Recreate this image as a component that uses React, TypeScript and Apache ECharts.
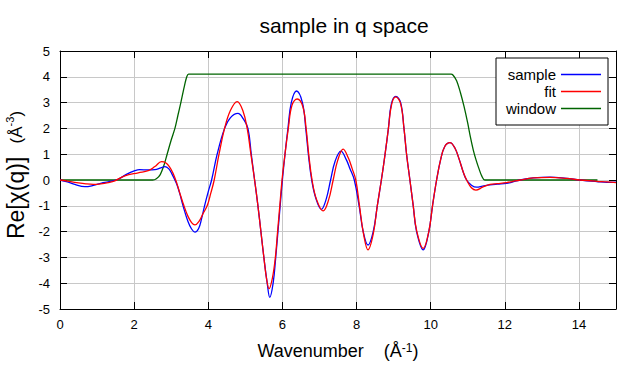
import React, { useEffect, useRef } from "react";
import * as echarts from "echarts";

const FONT = "'Liberation Sans', Arial, sans-serif";

const xTicksInterval = 2;
const yTicksInterval = 1;

const sampleX = [0, 0.2, 0.4, 0.67, 0.9, 1.12, 1.3, 1.57, 1.79, 2.02, 2.15, 2.38, 2.56, 2.72, 2.83, 2.93, 3.01, 3.14, 3.23, 3.32, 3.45, 3.55, 3.64, 3.74, 3.82, 3.9, 4.0, 4.09, 4.24, 4.44, 4.6, 4.8, 4.94, 5.07, 5.16, 5.25, 5.34, 5.42, 5.5, 5.59, 5.66, 5.75, 5.82, 5.88, 5.94, 6.0, 6.07, 6.15, 6.24, 6.38, 6.54, 6.63, 6.7, 6.79, 6.9, 7.05, 7.18, 7.3, 7.42, 7.58, 7.72, 7.82, 7.94, 8.07, 8.18, 8.31, 8.45, 8.56, 8.67, 8.77, 8.86, 8.94, 9.06, 9.19, 9.28, 9.35, 9.44, 9.53, 9.62, 9.8, 9.95, 10.05, 10.16, 10.27, 10.38, 10.52, 10.65, 10.77, 10.88, 10.97, 11.1, 11.24, 11.4, 11.6, 11.8, 12.05, 12.2, 12.41, 12.77, 13.22, 13.67, 14.03, 14.48, 14.75, 15.0];
const sampleY = [0, -0.07, -0.17, -0.26, -0.21, -0.12, -0.07, 0.03, 0.22, 0.36, 0.4, 0.39, 0.4, 0.47, 0.52, 0.44, 0.26, -0.13, -0.52, -1.0, -1.6, -1.9, -2.02, -1.88, -1.5, -1.0, -0.45, 0.0, 1.0, 2.0, 2.42, 2.58, 2.38, 2.0, 1.0, 0.0, -1.0, -2.0, -3.0, -4.0, -4.55, -4.0, -3.0, -2.0, -1.0, 0.0, 1.0, 2.0, 3.0, 3.45, 3.0, 2.0, 1.0, 0.0, -0.7, -1.14, -0.75, 0.0, 0.72, 1.12, 0.8, 0.45, 0.0, -1.0, -2.0, -2.52, -2.0, -1.0, 0.0, 1.0, 2.0, 2.95, 3.24, 3.0, 2.0, 1.0, 0.0, -1.0, -2.0, -2.71, -2.0, -1.0, 0.0, 0.8, 1.3, 1.45, 1.25, 0.8, 0.3, 0.0, -0.2, -0.28, -0.24, -0.19, -0.16, -0.13, -0.08, 0.0, 0.08, 0.11, 0.06, 0.0, -0.06, -0.09, -0.08];

const fitX = [0, 0.2, 0.45, 0.7, 0.9, 1.1, 1.3, 1.48, 1.75, 2.11, 2.38, 2.56, 2.74, 2.85, 2.95, 3.05, 3.15, 3.23, 3.32, 3.45, 3.55, 3.64, 3.75, 3.86, 3.97, 4.07, 4.16, 4.29, 4.44, 4.6, 4.78, 4.93, 5.05, 5.15, 5.25, 5.34, 5.42, 5.5, 5.57, 5.64, 5.73, 5.81, 5.87, 5.93, 5.99, 6.07, 6.16, 6.26, 6.4, 6.55, 6.64, 6.71, 6.8, 6.92, 7.1, 7.24, 7.37, 7.49, 7.64, 7.78, 7.88, 7.98, 8.08, 8.19, 8.31, 8.45, 8.56, 8.67, 8.77, 8.86, 8.95, 9.06, 9.19, 9.28, 9.35, 9.44, 9.53, 9.62, 9.8, 9.95, 10.05, 10.16, 10.27, 10.38, 10.52, 10.65, 10.77, 10.88, 10.97, 11.1, 11.22, 11.4, 11.6, 11.8, 12.05, 12.2, 12.41, 12.77, 13.22, 13.67, 14.03, 14.48, 14.75, 15.0];
const fitY = [0, -0.04, -0.1, -0.15, -0.17, -0.15, -0.1, -0.03, 0.16, 0.28, 0.36, 0.52, 0.71, 0.67, 0.52, 0.26, -0.12, -0.5, -0.9, -1.4, -1.65, -1.74, -1.6, -1.3, -1.0, -0.5, 0.0, 1.0, 2.0, 2.7, 3.04, 2.7, 2.0, 1.0, 0.0, -1.0, -2.0, -3.0, -3.8, -4.21, -3.8, -3.0, -2.0, -1.0, 0.0, 1.0, 2.0, 2.9, 3.14, 2.85, 2.0, 1.0, 0.0, -0.75, -1.2, -0.8, 0.0, 0.75, 1.2, 0.85, 0.45, 0.0, -1.0, -2.1, -2.71, -2.1, -1.0, 0.0, 1.0, 2.0, 2.95, 3.22, 2.95, 2.0, 1.0, 0.0, -1.0, -1.95, -2.65, -2.0, -1.0, 0.0, 0.8, 1.3, 1.45, 1.25, 0.8, 0.3, 0.0, -0.3, -0.39, -0.28, -0.17, -0.14, -0.1, -0.06, 0.0, 0.08, 0.1, 0.06, 0.0, -0.05, -0.07, -0.1];

const windowX = [0, 2.5, 2.6, 2.7, 2.8, 2.89, 3.0, 3.1, 3.18, 3.26, 3.35, 3.42, 3.47, 10.55, 10.6, 10.7, 10.8, 10.9, 11.0, 11.07, 11.15, 11.22, 11.3, 11.38, 11.46, 14.5];
const windowY = [0, 0, 0.05, 0.2, 0.55, 1.0, 1.55, 2.0, 2.5, 3.0, 3.6, 4.0, 4.1, 4.1, 4.07, 3.85, 3.4, 2.85, 2.2, 1.68, 1.16, 0.8, 0.45, 0.15, 0, 0];

const zip = (xs: number[], ys: number[]) => xs.map((x, i) => [x, ys[i]]);

export default function App() {
  const ref = useRef<HTMLDivElement>(null);
  useEffect(() => {
    if (!ref.current) return;
    const chart = echarts.init(ref.current, null, { renderer: "svg" });
    const axisCommon = {
      type: "value",
      axisLine: { show: true, onZero: false, lineStyle: { color: "#000", width: 1 } },
      axisTick: { show: true, inside: true, length: 7, lineStyle: { color: "#000" } },
    };
    chart.setOption({
      animation: false,
      backgroundColor: "#fff",
      title: {
        text: "sample in q space",
        left: 339,
        top: 10,
        textAlign: "center",
        textStyle: { fontFamily: FONT, fontSize: 21, fontWeight: "normal", color: "#000" },
      },
      legend: {
        orient: "vertical",
        right: 32,
        top: 58,
        align: "right",
        itemWidth: 40,
        itemHeight: 1.5,
        itemGap: 0,
        borderColor: "#000",
        borderWidth: 1,
        backgroundColor: "#fff",
        padding: [8, 7, 8, 8],
        textStyle: { fontFamily: FONT, fontSize: 15, color: "#000", width: 52, align: "right", lineHeight: 17 },
        data: [
          { name: "sample", icon: "rect" },
          { name: "fit", icon: "rect" },
          { name: "window", icon: "rect" },
        ],
      },
      grid: { left: 60, right: 24, top: 51, bottom: 75, containLabel: false, outerBoundsMode: "none" },
      xAxis: [
        {
          ...axisCommon,
          position: "bottom",
          min: 0,
          max: 15,
          interval: xTicksInterval,
          axisLabel: { show: true, showMaxLabel: false, fontFamily: FONT, fontSize: 13, color: "#000", margin: 9 },
          splitLine: { show: true, lineStyle: { color: "#c8c8c8", width: 1 } },
          name: "{b|Wavenumber}{g|    }{b|(Å}{s|-1}{b|)}",
          nameLocation: "middle",
          nameGap: 33,
          nameTextStyle: {
            fontFamily: FONT,
            rich: {
              b: { fontFamily: FONT, fontSize: 18, color: "#000" },
              g: { fontFamily: FONT, fontSize: 18 },
              s: { fontFamily: FONT, fontSize: 12, color: "#000", verticalAlign: "top" },
            },
          },
        },
        {
          ...axisCommon,
          position: "top",
          min: 0,
          max: 15,
          interval: xTicksInterval,
          axisLabel: { show: false },
          splitLine: { show: false },
        },
      ],
      yAxis: [
        {
          ...axisCommon,
          position: "left",
          min: -5,
          max: 5,
          interval: yTicksInterval,
          axisLabel: { show: true, fontFamily: FONT, fontSize: 13, color: "#000", margin: 10 },
          splitLine: { show: true, lineStyle: { color: "#c8c8c8", width: 1 } },
          name: "{a|Re[χ(q)]}{g|    }{b|(Å}{s|-3}{b|)}",
          nameLocation: "middle",
          nameRotate: 90,
          nameGap: 28,
          nameTextStyle: {
            fontFamily: FONT,
            rich: {
              a: { fontFamily: FONT, fontSize: 23, color: "#000", padding: [0, 0, 0, 10] },
              g: { fontFamily: FONT, fontSize: 12 },
              b: { fontFamily: FONT, fontSize: 17, color: "#000" },
              s: { fontFamily: FONT, fontSize: 11, color: "#000", verticalAlign: "top" },
            },
          },
        },
        {
          ...axisCommon,
          position: "right",
          min: -5,
          max: 5,
          interval: yTicksInterval,
          axisLabel: { show: false },
          splitLine: { show: false },
        },
      ],
      series: [
        {
          name: "window",
          type: "line",
          data: zip(windowX, windowY),
          showSymbol: false,
          smooth: 0.3,
          lineStyle: { color: "#006400", width: 1.3 },
          itemStyle: { color: "#006400" },
          z: 2,
        },
        {
          name: "sample",
          type: "line",
          data: zip(sampleX, sampleY),
          showSymbol: false,
          smooth: 0.4,
          lineStyle: { color: "#0000ff", width: 1.3 },
          itemStyle: { color: "#0000ff" },
          z: 3,
        },
        {
          name: "fit",
          type: "line",
          data: zip(fitX, fitY),
          showSymbol: false,
          smooth: 0.4,
          lineStyle: { color: "#ff0000", width: 1.3 },
          itemStyle: { color: "#ff0000" },
          z: 4,
        },
      ],
    });
    return () => chart.dispose();
  }, []);
  return <div ref={ref} style={{ width: 640, height: 384, position: "absolute", left: 0, top: 0 }} />;
}
